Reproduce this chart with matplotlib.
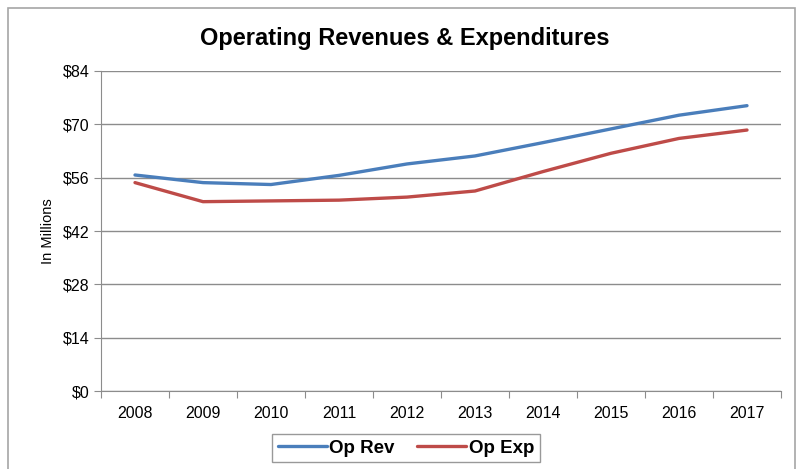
import numpy as np
import matplotlib.pyplot as plt
from matplotlib.patches import Rectangle
from matplotlib.ticker import FixedLocator

plt.rcParams['font.family'] = ['Liberation Sans', 'DejaVu Sans']

# Данные (млн $)
years = ['2008', '2009', '2010', '2011', '2012', '2013', '2014', '2015', '2016', '2017']
op_rev = [56.7, 54.7, 54.2, 56.6, 59.6, 61.7, 65.2, 68.8, 72.4, 74.9]
op_exp = [54.7, 49.7, 49.9, 50.1, 50.9, 52.5, 57.6, 62.4, 66.3, 68.5]
y_ticks = [0, 14, 28, 42, 56, 70, 84]

fig = plt.figure(figsize=(8.02, 4.69), dpi=100)
ax = fig.add_axes([101 / 802, 1 - 391 / 469, 680 / 802, 320 / 469])

# рамка вокруг всего графика
fig.patches.append(Rectangle((8 / 802, -0.05), 787 / 802, 1 - 8 / 469 + 0.05,
                             transform=fig.transFigure, fill=False,
                             edgecolor='#a6a6a6', linewidth=1.2))

x = np.arange(len(years))
ax.plot(x, op_rev, color='#4a7ebb', linewidth=2.4, label='Op Rev', solid_capstyle='round')
ax.plot(x, op_exp, color='#be4b48', linewidth=2.4, label='Op Exp', solid_capstyle='round')

ax.set_xlim(-0.5, len(years) - 0.5)
ax.set_ylim(0, 84)
ax.set_yticks(y_ticks)
ax.set_yticklabels(['$' + str(v) for v in y_ticks], fontsize=11.5)
ax.yaxis.grid(True, color='#8c8c8c', linewidth=1)
ax.set_axisbelow(True)

# подписи категорий посередине, штрихи на границах
ax.xaxis.set_major_locator(FixedLocator(np.arange(-0.5, len(years), 1.0)))
ax.xaxis.set_minor_locator(FixedLocator(x))
ax.set_xticklabels([''] * (len(years) + 1))
ax.set_xticklabels(years, minor=True, fontsize=11.5)
ax.tick_params(axis='x', which='minor', length=0, pad=11)
ax.tick_params(axis='x', which='major', length=5, color='#8c8c8c')
ax.tick_params(axis='y', length=5, color='#8c8c8c', pad=3)

for s in ['top', 'right']:
    ax.spines[s].set_visible(False)
for s in ['left', 'bottom']:
    ax.spines[s].set_color('#8c8c8c')

ax.set_ylabel('In Millions', fontsize=10.5, labelpad=6)
fig.text(405 / 802, 1 - 38 / 469, 'Operating Revenues & Expenditures',
         ha='center', va='center', fontsize=17, fontweight='bold')

leg = fig.legend(loc='center', bbox_to_anchor=(406 / 802, 1 - 448 / 469), ncol=2,
                 frameon=True, fancybox=False, edgecolor='#808080',
                 prop={'weight': 'bold', 'size': 13.5}, handlelength=2.6,
                 columnspacing=1.2, handletextpad=0.15, borderpad=0.3)
leg.get_frame().set_linewidth(1.0)

fig.savefig('out.png', dpi=100)
